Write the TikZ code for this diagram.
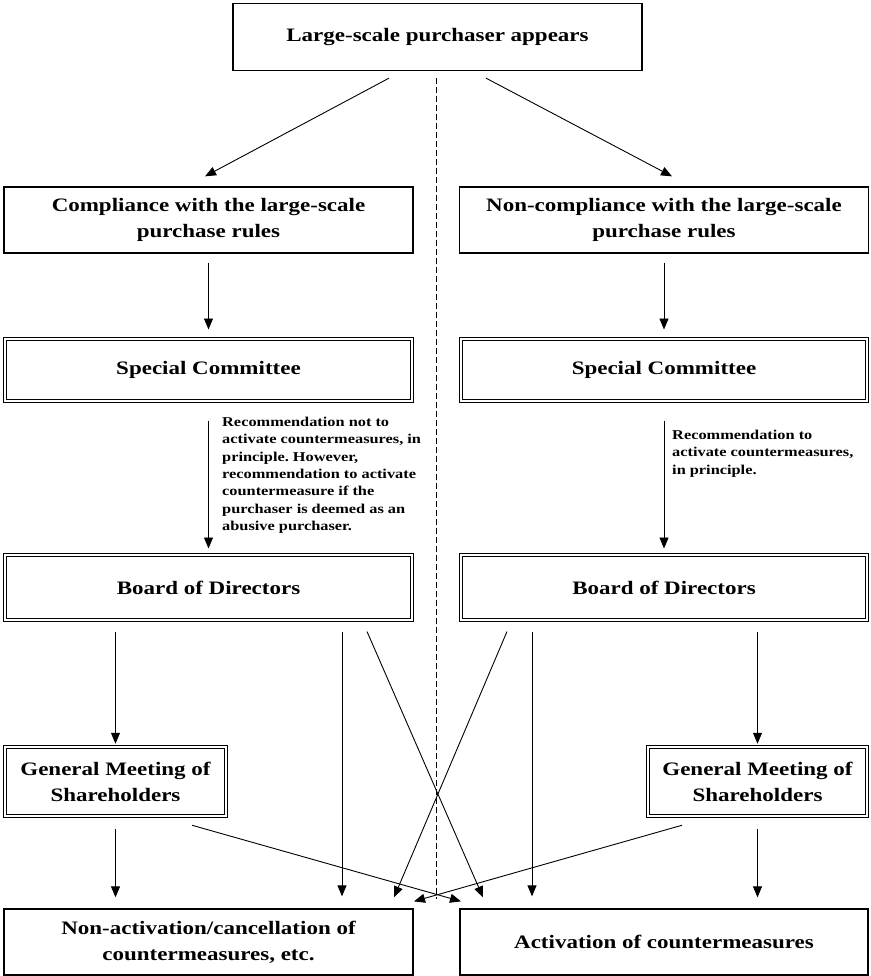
\documentclass[tikz,border=0pt]{standalone}
\usepackage{fontspec}
\setmainfont{Liberation Serif}[FakeStretch=1.21]
\usetikzlibrary{arrows.meta,calc}
\frenchspacing
\begin{document}
\begin{tikzpicture}[x=1pt,y=-1pt,
  box/.style={draw, line width=1.3pt, minimum width=409pt, minimum height=#1, align=center, inner sep=0pt,
     font=\fontsize{19}{26}\selectfont\bfseries},
  box/.default=66pt,
  dbox/.style={draw, line width=1pt, double, double distance=2.4pt, align=center, inner sep=0pt,
     font=\fontsize{19}{26}\selectfont\bfseries},
  arr/.style={line width=0.9pt, -{Triangle[length=11pt,width=9pt]}},
  ann/.style={anchor=north west, align=left, inner sep=0pt, font=\fontsize{13.5}{17.3}\selectfont\bfseries}
]
\useasboundingbox (0,0) rectangle (870,976);
\node[box=67pt] (top) at (437.5,37) {Large-scale purchaser appears};
\node[box] (comp) at (208.5,220) {Compliance with the large-scale\\purchase rules};
\node[box] (noncomp) at (664,220) {Non-compliance with the large-scale\\purchase rules};
\node[dbox, minimum width=406.5pt, minimum height=62pt] (sc1) at (208.5,370) {Special Committee};
\node[dbox, minimum width=406pt, minimum height=62pt] (sc2) at (664,370) {Special Committee};
\node[dbox, minimum width=406.5pt, minimum height=65pt] (bd1) at (208.5,587.5) {Board of Directors};
\node[dbox, minimum width=406pt, minimum height=65pt] (bd2) at (664,587.5) {Board of Directors};
\node[dbox, minimum width=220.5pt, minimum height=68.5pt] (gm1) at (115.5,781.5) {General Meeting of\\Shareholders};
\node[dbox, minimum width=218.5pt, minimum height=68.5pt] (gm2) at (757.5,781.5) {General Meeting of\\Shareholders};
\node[box] (out1) at (208.5,942) {Non-activation/cancellation of\\countermeasures, etc.};
\node[box, minimum width=408pt] (out2) at (664,942) {Activation of countermeasures};

\node[ann] (ann1) at (222,417) {Recommendation not to\\activate countermeasures, in\\principle. However,\\recommendation to activate\\countermeasure if the\\purchaser is deemed as an\\abusive purchaser.};
\node[ann] (ann2) at (672,430) {Recommendation to\\activate countermeasures,\\in principle.};

% dashed divider
\coordinate (dtop) at ($(top.south)+(-1.5,7)$);
\coordinate (dbot) at ($(top.south |- out1.north)+(-1.5,-9)$);
\draw[line width=0.9pt, dash pattern=on 6pt off 3pt] (dtop) -- (dbot);

\draw[arr] ($(top.south)+(-48.5,7)$) -- ($(comp.north)+(-3.5,-10)$);
\draw[arr] ($(top.south)+(48.5,7)$) -- ($(noncomp.north)+(8,-10)$);
\draw[arr, shorten <=9pt, shorten >=9pt] (comp.south) -- (sc1.north);
\draw[arr, shorten <=9pt, shorten >=9pt] (noncomp.south) -- (sc2.north);
\draw[arr, shorten <=19pt, shorten >=6pt] (sc1.south) -- (bd1.north);
\draw[arr, shorten <=19pt, shorten >=6pt] (sc2.south) -- (bd2.north);

\draw[arr, shorten <=11pt, shorten >=3pt] (gm1.north |- bd1.south) -- (gm1.north);
\draw[arr] ($(bd1.south)+(133.5,11)$) -- ($(out1.north)+(133.5,-12)$);
\draw[arr] ($(bd1.south)+(158.5,11)$) -- ($(out2.north)+(-181,-11)$);
\draw[arr] ($(bd2.south)+(-157,11)$) -- ($(out1.north)+(185.5,-11)$);
\draw[arr] ($(bd2.south)+(-132,11)$) -- ($(out2.north)+(-132,-12)$);
\draw[arr, shorten <=11pt, shorten >=3pt] (gm2.north |- bd2.south) -- (gm2.north);

\draw[arr, shorten <=13pt, shorten >=11pt] (gm1.south) -- (gm1.south |- out1.north);
\draw[arr] ($(gm1.south)+(76.5,9)$) -- ($(out2.north)+(-203,-7)$);
\draw[arr] ($(gm2.south)+(-75.5,9)$) -- ($(out1.north)+(205.5,-7)$);
\draw[arr, shorten <=13pt, shorten >=11pt] (gm2.south) -- (gm2.south |- out2.north);
\end{tikzpicture}
\end{document}
